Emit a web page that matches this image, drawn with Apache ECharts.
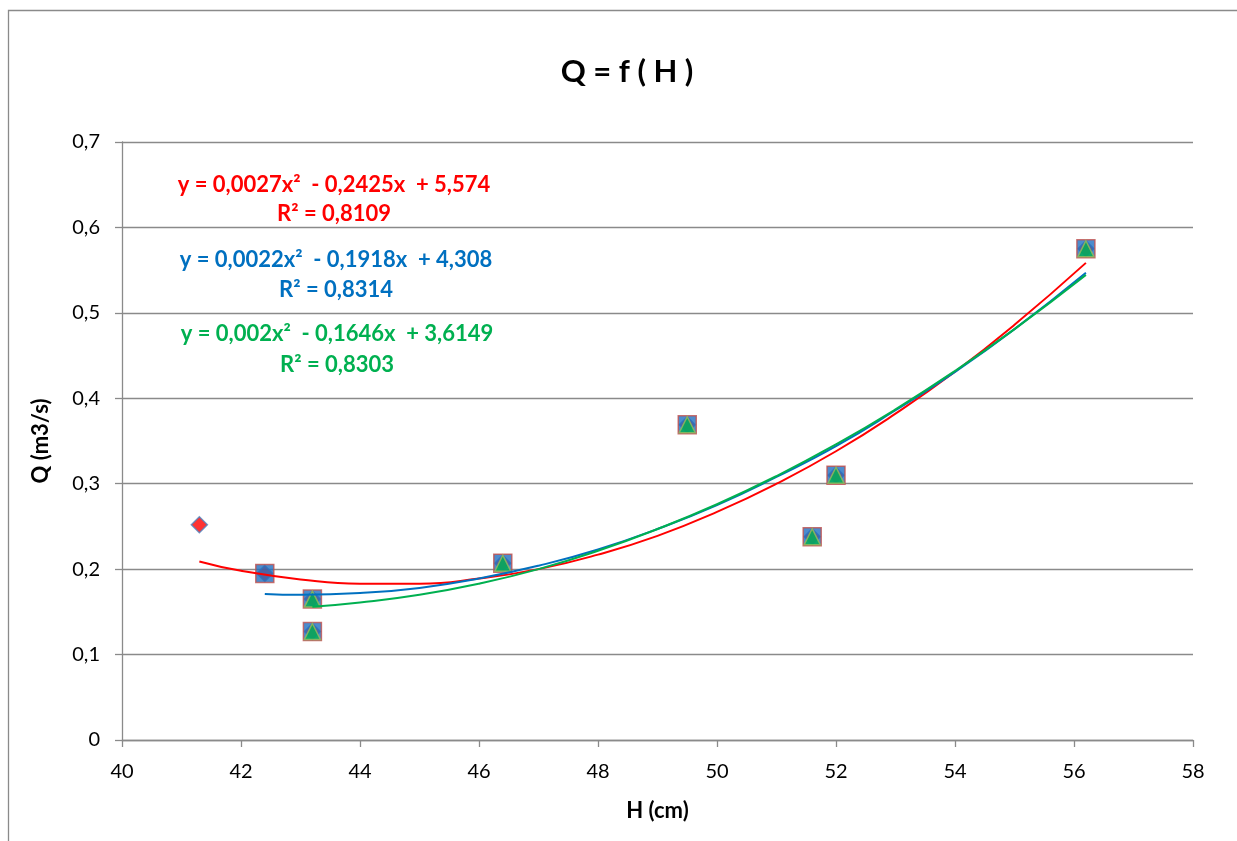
<!DOCTYPE html>
<html>
<head>
<meta charset="utf-8">
<script src="https://cdn.jsdelivr.net/npm/echarts@6/dist/echarts.min.js"></script>
<style>
html,body{margin:0;padding:0;background:#fff;}
#chart{width:1237px;height:841px;}
</style>
</head>
<body>
<div id="chart"></div>
<script>
// Measured points (H in cm, Q in m3/s)
const H1 = [41.3, 42.4, 43.2, 43.2, 46.4, 49.5, 51.6, 52.0, 56.2];
const Q1 = [0.252, 0.195, 0.165, 0.127, 0.207, 0.369, 0.238, 0.310, 0.575];
const H2 = [42.4, 43.2, 43.2, 46.4, 49.5, 51.6, 52.0, 56.2];
const Q2 = [0.195, 0.165, 0.127, 0.207, 0.369, 0.238, 0.310, 0.575];
const H3 = [43.2, 43.2, 46.4, 49.5, 51.6, 52.0, 56.2];
const Q3 = [0.165, 0.127, 0.207, 0.369, 0.238, 0.310, 0.575];

// Trend curves
const trendRedX = [41.3, 42, 43, 44, 45, 46, 47, 48, 49, 50, 51, 52, 53, 54, 55, 56.2];
const trendRedY = [0.209, 0.198, 0.188, 0.183, 0.183, 0.189, 0.200, 0.217, 0.239, 0.267, 0.300, 0.338, 0.382, 0.431, 0.486, 0.5585];
const trendBlueX = [42.4, 43, 44, 45, 46, 47, 48, 49, 50, 51, 52, 53, 54, 55, 56.2];
const trendBlueY = [0.171, 0.170, 0.172, 0.178, 0.189, 0.204, 0.223, 0.247, 0.275, 0.308, 0.344, 0.386, 0.431, 0.481, 0.547];
const trendGreenX = [43.2, 44, 45, 46, 47, 48, 49, 50, 51, 52, 53, 54, 55, 56.2];
const trendGreenY = [0.156, 0.161, 0.170, 0.183, 0.200, 0.2215, 0.247, 0.276, 0.309, 0.346, 0.387, 0.432, 0.481, 0.5445];

const xTicks = [40, 42, 44, 46, 48, 50, 52, 54, 56, 58];
const yTicks = [0, 0.1, 0.2, 0.3, 0.4, 0.5, 0.6, 0.7];

const titleText = 'Q = f ( H )';
const xName = 'H (cm)';
const yName = 'Q (m3/s)';
const eqRed = ['y = 0,0027x\u00B2  - 0,2425x  + 5,574', 'R\u00B2 = 0,8109'];
const eqBlue = ['y = 0,0022x\u00B2  - 0,1918x  + 4,308', 'R\u00B2 = 0,8314'];
const eqGreen = ['y = 0,002x\u00B2  - 0,1646x  + 3,6149', 'R\u00B2 = 0,8303'];

const zip = (a, b) => a.map((v, i) => [v, b[i]]);
const FONT = 'Lato, "Open Sans", sans-serif';
const gridColor = '#8a8a8a';

const chart = echarts.init(document.getElementById('chart'), null, {renderer: 'canvas'});

function eqText(lines, color, x, y1, y2) {
  return [
    {type: 'text', x: x, y: y1, style: {text: lines[0], fill: color, font: 'bold 22px ' + FONT, textAlign: 'center', textVerticalAlign: 'middle'}},
    {type: 'text', x: x, y: y2, style: {text: lines[1], fill: color, font: 'bold 22px ' + FONT, textAlign: 'center', textVerticalAlign: 'middle'}}
  ];
}

const option = {
  backgroundColor: '#ffffff',
  animation: false,
  grid: {left: 122, right: 44, top: 142, bottom: 101, containLabel: false},
  xAxis: {
    type: 'value', min: xTicks[0], max: xTicks[xTicks.length - 1], interval: 2,
    name: xName, nameLocation: 'middle', nameGap: 60,
    nameTextStyle: {fontFamily: FONT, fontWeight: 'bold', fontSize: 22, color: '#000'},
    axisLine: {show: true, onZero: false, lineStyle: {color: gridColor, width: 1.3}},
    axisTick: {show: true, length: 7, lineStyle: {color: gridColor, width: 1.3}},
    axisLabel: {margin: 22, fontFamily: FONT, fontSize: 20, color: '#000'},
    splitLine: {show: false}
  },
  yAxis: {
    type: 'value', min: yTicks[0], max: yTicks[yTicks.length - 1], interval: 0.1,
    name: yName, nameLocation: 'middle', nameGap: 70, nameRotate: 90,
    nameTextStyle: {fontFamily: FONT, fontWeight: 'bold', fontSize: 22, color: '#000'},
    axisLine: {show: true, onZero: false, lineStyle: {color: gridColor, width: 1.3}},
    axisTick: {show: true, length: 7, lineStyle: {color: gridColor, width: 1.3}},
    axisLabel: {margin: 22, fontFamily: FONT, fontSize: 20, color: '#000',
      formatter: v => (Math.round(v * 10) / 10).toString().replace('.', ',')},
    splitLine: {show: true, lineStyle: {color: gridColor, width: 1.3}}
  },
  series: [
    {type: 'scatter', data: zip(H1, Q1), symbol: 'diamond', symbolSize: 16,
      itemStyle: {color: '#ff0000', borderColor: '#4f81bd', borderWidth: 1.5}, z: 2},
    {type: 'scatter', data: zip(H2, Q2), symbol: 'rect', symbolSize: 18,
      itemStyle: {color: '#1f6fc0', borderColor: '#c0504d', borderWidth: 1.5}, z: 3},
    {type: 'scatter', data: zip(H3, Q3), symbol: 'triangle', symbolSize: [16, 16],
      itemStyle: {color: '#00b050', borderColor: '#9bbb59', borderWidth: 1.5}, z: 4},
    {type: 'line', data: zip(trendRedX, trendRedY), showSymbol: false, smooth: true,
      lineStyle: {color: '#ff0000', width: 2}, z: 5},
    {type: 'line', data: zip(trendBlueX, trendBlueY), showSymbol: false, smooth: true,
      lineStyle: {color: '#0070c0', width: 2}, z: 6},
    {type: 'line', data: zip(trendGreenX, trendGreenY), showSymbol: false, smooth: true,
      lineStyle: {color: '#00b050', width: 2}, z: 7}
  ],
  graphic: [
    {type: 'rect', shape: {x: 8.5, y: 10.5, width: 1300, height: 900}, style: {fill: 'none', stroke: '#8a8a8a', lineWidth: 1.3}, silent: true},
    {type: 'text', x: 627, y: 72, style: {text: titleText, fill: '#000', font: 'bold 31px ' + FONT, textAlign: 'center', textVerticalAlign: 'middle'}},
    ...eqText(eqRed, '#ff0000', 334, 185, 214),
    ...eqText(eqBlue, '#0070c0', 336, 260, 290),
    ...eqText(eqGreen, '#00b050', 337, 334, 365)
  ]
};
chart.setOption(option);
</script>
</body>
</html>
